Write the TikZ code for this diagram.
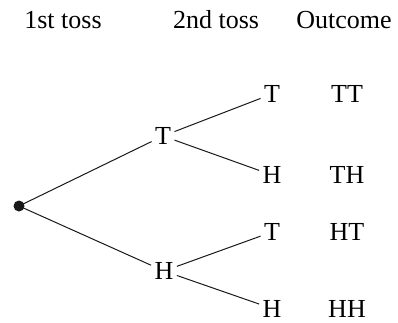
\documentclass[tikz,border=0pt]{standalone}
\usepackage{fontspec}
\setmainfont{Liberation Serif}
\begin{document}
\begin{tikzpicture}[x=1pt,y=-1pt,
  lbl/.style={font=\fontsize{26}{30}\selectfont, inner sep=3.5pt, outer sep=0pt},
  hdr/.style={font=\fontsize{26}{30}\selectfont, inner sep=0pt, anchor=base},
  branch/.style={draw=black!90, line width=1pt}]
\useasboundingbox (0,0) rectangle (398,322);
% headers
\node[hdr] (h1) at (63,28) {1st toss};
\node[hdr] (h2) at (216,28) {2nd toss};
\node[hdr] (h3) at (344,28) {Outcome};
% root
\fill[black!90] (19,206) circle (5.5);
\coordinate (root) at (19,206);
% first level
\node[lbl] (t1) at (163,136) {T};
\node[lbl] (h1n) at (164,271) {H};
% second level
\node[lbl] (tt) at (272,94) {T};
\node[lbl] (th) at (272,175) {H};
\node[lbl] (ht) at (272,232) {T};
\node[lbl] (hh) at (272,308.5) {H};
% outcomes
\node[lbl] (oTT) at (347,94) {TT};
\node[lbl] (oTH) at (347,175) {TH};
\node[lbl] (oHT) at (347,232) {HT};
\node[lbl] (oHH) at (347,308.5) {HH};
% connectors
\draw[branch] (root) -- (t1);
\draw[branch] (root) -- (h1n);
\draw[branch] (t1) -- (tt);
\draw[branch] (t1) -- (th);
\draw[branch] (h1n) -- (ht);
\draw[branch] (h1n) -- (hh);
\end{tikzpicture}
\end{document}
